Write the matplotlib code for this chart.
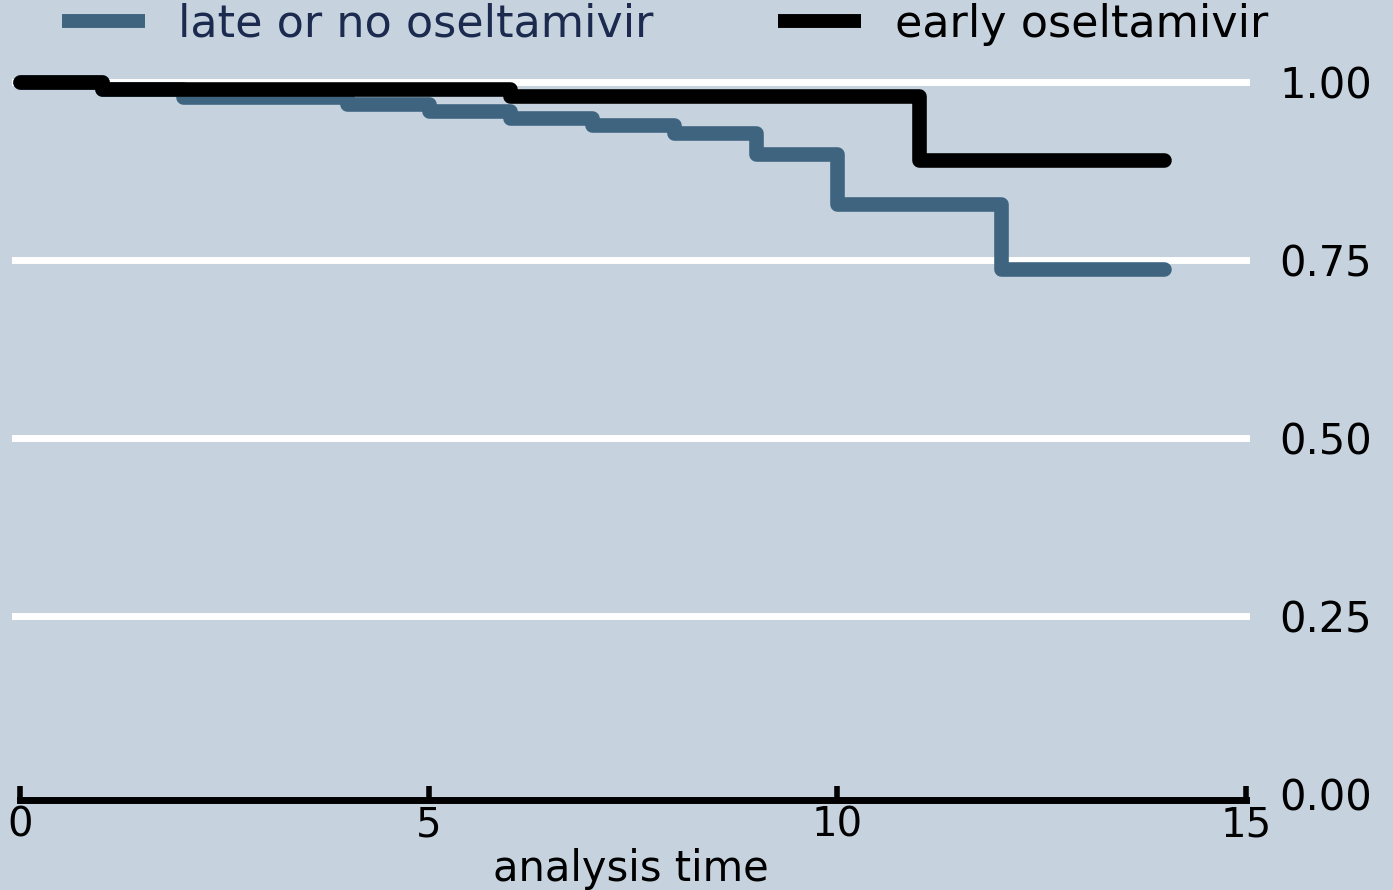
import numpy as np
import matplotlib
matplotlib.use("Agg")
import matplotlib.pyplot as plt

# survival estimates (step function, post)
late_t = [0, 1, 2, 4, 5, 6, 7, 8, 9, 10, 12, 14]
late_s = [1.0, 0.99, 0.979, 0.969, 0.959, 0.949, 0.94, 0.929, 0.899, 0.829, 0.738, 0.738]
early_t = [0, 1, 6, 11, 14]
early_s = [1.0, 0.99, 0.98, 0.89, 0.89]

labels = ["late or no oseltamivir", "early oseltamivir"]
xticks = [0, 5, 10, 15]
yticks = [0.0, 0.25, 0.5, 0.75, 1.0]
ytick_labels = ["0.00", "0.25", "0.50", "0.75", "1.00"]

BG = "#C6D3DF"
BLUE = "#3E6480"

plt.rcParams['font.family'] = ['DejaVu Sans']

W, H = 1393, 890
fig = plt.figure(figsize=(W / 100, H / 100), dpi=100, facecolor=BG)
ax = fig.add_axes([12 / W, 1 - 800 / H, (1250 - 12) / W, (800 - 70) / H])
ax.set_facecolor(BG)

ax.set_xlim(-8 / 81.73, 15 + 4 / 81.73)
ax.set_ylim(-6 / 712, 1 + 12 / 712)

# white grid lines (no line at 0)
for v in yticks[1:]:
    ax.axhline(v, color="white", lw=5, zorder=1)

l1, = ax.step(late_t, late_s, where="post", color=BLUE, lw=10.5,
              solid_capstyle="round", solid_joinstyle="round", zorder=3, clip_on=False)
l2, = ax.step(early_t, early_s, where="post", color="black", lw=10.5,
              solid_capstyle="round", solid_joinstyle="round", zorder=4, clip_on=False)

for s in ["left", "right", "top"]:
    ax.spines[s].set_visible(False)
ax.spines["bottom"].set_linewidth(5)
ax.spines["bottom"].set_bounds(0, 15)

ax.set_xticks(xticks)
ax.set_xticklabels([str(t) for t in xticks])
ax.tick_params(axis="x", direction="in", length=10, width=4, pad=4, labelsize=29)

ax.yaxis.tick_right()
ax.set_yticks(yticks)
ax.set_yticklabels(ytick_labels)
ax.tick_params(axis="y", length=0, pad=21, labelsize=30)

ax.set_xlabel("analysis time", fontsize=30, labelpad=2)

leg = fig.legend([l1, l2], labels, loc="center left", ncol=2,
                 bbox_to_anchor=(62 / W, 1 - 24 / H), frameon=False,
                 fontsize=32, handlelength=1.87, handletextpad=0.75,
                 columnspacing=2.8, borderpad=0, borderaxespad=0)
for h in leg.legend_handles:
    h.set_linewidth(10)
    h.set_solid_capstyle("butt")
leg.get_texts()[0].set_color("#1B2A4E")

fig.savefig("out.png", dpi=100, facecolor=BG)
